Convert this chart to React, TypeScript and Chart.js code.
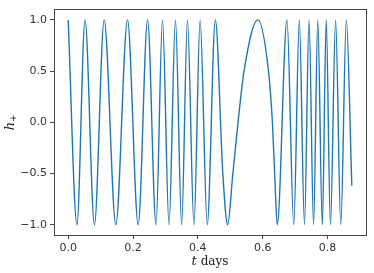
import React, { useEffect, useRef } from "react";
import { Chart, registerables } from "chart.js";

Chart.register(...registerables);

// Times (days) of the maxima (h = +1) and minima (h = -1)
const peakTimes = [0.0, 0.052, 0.111, 0.183, 0.245, 0.291, 0.331, 0.368, 0.407, 0.454, 0.585, 0.675, 0.713, 0.743, 0.77, 0.796, 0.825, 0.858];
const troughTimes = [0.027, 0.081, 0.147, 0.216, 0.271, 0.311, 0.35, 0.388, 0.429, 0.492, 0.645, 0.696, 0.729, 0.757, 0.784, 0.809, 0.841];
// intermediate points read in the slow (broad) part of the signal
const midTimes = [0.477, 0.508, 0.524, 0.5425, 0.618, 0.63, 0.637];
const midValues = [-0.5, -0.5, 0.0, 0.5, 0.5, 0.0, -0.5];
const endTime = 0.875;
const endValue = -0.62;

const xTicks = [0.0, 0.2, 0.4, 0.6, 0.8];
const yTicks = [-1.0, -0.5, 0.0, 0.5, 1.0];
const xLabelItalic = "t";
const xLabelRoman = " days";
const yLabelItalic = "h";
const yLabelSub = "+";

const fmt = (v: number) => v.toFixed(1).replace("-", "\u2212");

export default function App() {
  const ref = useRef<HTMLCanvasElement>(null);
  useEffect(() => {
    const pts: { x: number; y: number }[] = [];
    peakTimes.forEach((t) => pts.push({ x: t, y: 1 }));
    troughTimes.forEach((t) => pts.push({ x: t, y: -1 }));
    midTimes.forEach((t, i) => pts.push({ x: t, y: midValues[i] }));
    pts.push({ x: endTime, y: endValue });
    pts.sort((a, b) => a.x - b.x);

    const labelPlugin = {
      id: "labels",
      afterDraw(chart: any) {
        const ctx = chart.ctx;
        const area = chart.chartArea;
        ctx.save();
        ctx.fillStyle = "#222";
        ctx.textBaseline = "middle";
        // x label
        const fi = "italic 13px 'DejaVu Serif', 'Liberation Serif', serif";
        const fr = "12px 'DejaVu Serif', 'Liberation Serif', serif";
        ctx.font = fi;
        const w1 = ctx.measureText(xLabelItalic).width;
        ctx.font = fr;
        const w2 = ctx.measureText(xLabelRoman).width;
        const cx = (area.left + area.right) / 2;
        let x0 = cx - (w1 + w2) / 2;
        ctx.textAlign = "left";
        ctx.font = fi;
        ctx.fillText(xLabelItalic, x0, 262);
        ctx.font = fr;
        ctx.fillText(xLabelRoman, x0 + w1, 262);
        // y label
        ctx.translate(11, (area.top + area.bottom) / 2);
        ctx.rotate(-Math.PI / 2);
        ctx.font = fi;
        const hw = ctx.measureText(yLabelItalic).width;
        ctx.font = "9px 'DejaVu Sans', sans-serif";
        const sw = ctx.measureText(yLabelSub).width;
        const start = -(hw + sw) / 2;
        ctx.font = fi;
        ctx.fillText(yLabelItalic, start, 0);
        ctx.font = "9px 'DejaVu Sans', sans-serif";
        ctx.fillText(yLabelSub, start + hw, 3);
        ctx.restore();
      },
    };

    const chart = new Chart(ref.current!, {
      type: "line",
      data: {
        datasets: [
          {
            data: pts,
            borderColor: "#1f77b4",
            borderWidth: 1.4,
            pointRadius: 0,
            cubicInterpolationMode: "monotone",
            fill: false,
          },
        ],
      },
      options: {
        animation: false,
        responsive: false,
        layout: { padding: { left: 0, right: 8, top: 7, bottom: 0 } },
        plugins: { legend: { display: false }, tooltip: { enabled: false } },
        scales: {
          x: {
            type: "linear",
            min: -0.04375,
            max: 0.91875,
            afterBuildTicks: (s: any) => {
              s.ticks = xTicks.map((v) => ({ value: v }));
            },
            afterFit: (s: any) => {
              s.height = 38;
            },
            ticks: {
              callback: (v: any) => fmt(Number(v)),
              font: { family: "'DejaVu Sans', sans-serif", size: 11 },
              color: "#333",
              padding: 3,
              maxRotation: 0,
            },
            grid: { drawOnChartArea: false, drawTicks: true, tickLength: 4, color: "#444" },
            border: { display: true, color: "#444", width: 1 },
          },
          y: {
            type: "linear",
            min: -1.1,
            max: 1.1,
            afterBuildTicks: (s: any) => {
              s.ticks = yTicks.map((v) => ({ value: v }));
            },
            afterFit: (s: any) => {
              s.width = 54;
            },
            ticks: {
              callback: (v: any) => fmt(Number(v)),
              font: { family: "'DejaVu Sans', sans-serif", size: 11 },
              color: "#333",
              padding: 3,
            },
            grid: { drawOnChartArea: false, drawTicks: true, tickLength: 4, color: "#444" },
            border: { display: true, color: "#444", width: 1 },
          },
          x2: {
            type: "linear",
            position: "top",
            display: true,
            ticks: { display: false },
            grid: { display: false, drawTicks: false },
            border: { display: true, color: "#444", width: 1 },
            afterFit: (s: any) => {
              s.height = 0;
            },
          },
          y2: {
            type: "linear",
            position: "right",
            display: true,
            ticks: { display: false },
            grid: { display: false, drawTicks: false },
            border: { display: true, color: "#444", width: 1 },
            afterFit: (s: any) => {
              s.width = 0;
            },
          },
        },
      } as any,
      plugins: [labelPlugin],
    });
    return () => chart.destroy();
  }, []);
  return (
    <div style={{ position: "fixed", left: 0, top: 0, width: 374, height: 273, background: "#fff" }}>
      <canvas ref={ref} width={374} height={273} style={{ display: "block" }} />
    </div>
  );
}
